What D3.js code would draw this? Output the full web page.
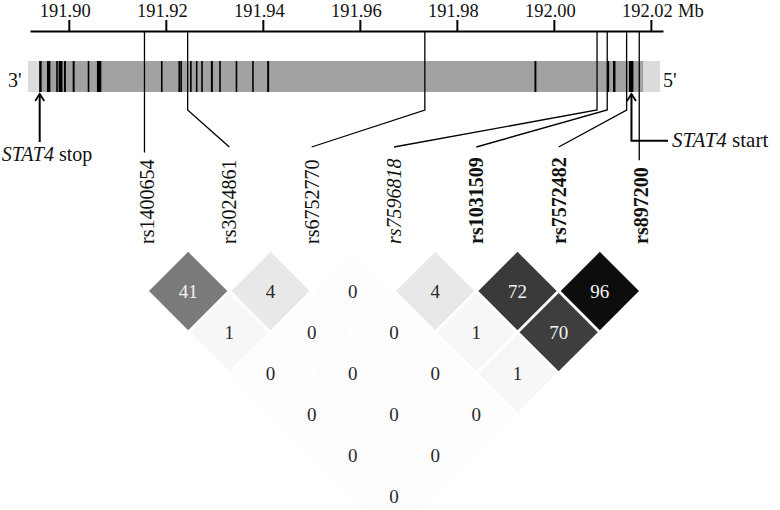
<!DOCTYPE html>
<html><head><meta charset="utf-8">
<script src="https://cdn.jsdelivr.net/npm/d3@7"></script>
<style>
body{margin:0;background:#fff}
svg{display:block;background:#fff}
text{font-family:"Liberation Serif","Times New Roman",serif}
</style>
</head><body>
<svg id="c" width="780" height="510"></svg>
<script>
// ---------- data ----------
const tickValues = [191.90, 191.92, 191.94, 191.96, 191.98, 192.00, 192.02];
const axisUnit = "Mb";
const geneFlank = [191.8916, 192.0219];
const geneBody = [191.8939, 192.0184];
const exonStarts = [191.8939,191.8955,191.8974,191.8979,191.8990,191.9008,191.9039,191.9058,191.9190,191.9226,191.9230,191.9250,191.9262,191.9273,191.9293,191.9310,191.9344,191.9378,191.9409,191.9960,192.0110,192.0122,192.0155];
const exonEnds   = [191.8944,191.8962,191.8977,191.8987,191.8994,191.9012,191.9042,191.9067,191.9193,191.9228,191.9233,191.9253,191.9265,191.9275,191.9297,191.9312,191.9347,191.9381,191.9413,191.9964,192.0114,192.0127,192.0164];
const geneStopMb = 191.8940;
const geneStartMb = 192.0160;
const snpNames = ["rs1400654","rs3024861","rs6752770","rs7596818","rs1031509","rs7572482","rs897200"];
const snpMb = [191.9156, 191.9245, 191.9734, 192.0089, 192.0110, 192.0150, 192.0176];
// LD values, row k = pairs (i, i+k)
const ldRows = [
  [41, 4, 0, 4, 72, 96],
  [1, 0, 0, 1, 70],
  [0, 0, 0, 1],
  [0, 0, 0],
  [0, 0],
  [0]
];

// ---------- drawing ----------
const svg = d3.select("#c");
const W = 780, H = 510;
svg.append("rect").attr("width", W).attr("height", H).attr("fill", "#fff");

const x = d3.scaleLinear().domain([191.892, 192.0225]).range([30, 663]);
const axisY = 31;

const axisG = svg.append("g").attr("transform", `translate(0,${axisY})`)
  .call(d3.axisTop(x).tickValues(tickValues).tickFormat(d3.format(".2f"))
        .tickSize(11).tickSizeOuter(0).tickPadding(3.5));
axisG.attr("font-family", null).attr("font-size", null);
axisG.select(".domain").attr("stroke", "#000").attr("stroke-width", 2);
axisG.selectAll(".tick line").attr("stroke", "#000").attr("stroke-width", 2);
axisG.selectAll(".tick text").attr("fill", "#111").attr("font-size", "18.5px").attr("dx", -4)
  .style("font-family", '"Liberation Serif","Times New Roman",serif');
svg.append("text").attr("x", 678).attr("y", 16.5).attr("font-size", "18.5px").attr("fill", "#111").text(axisUnit);

// gene bar
const barY = 61, barH = 31;
svg.append("rect").attr("x", x(geneFlank[0])).attr("width", x(geneFlank[1]) - x(geneFlank[0]))
  .attr("y", barY).attr("height", barH).attr("fill", "#dcdcdc");
svg.append("rect").attr("x", x(geneBody[0])).attr("width", x(geneBody[1]) - x(geneBody[0]))
  .attr("y", barY).attr("height", barH).attr("fill", "#a2a2a2");
svg.append("g").selectAll("rect").data(d3.zip(exonStarts, exonEnds)).join("rect")
  .attr("x", d => x(d[0])).attr("width", d => Math.max(1.6, x(d[1]) - x(d[0])))
  .attr("y", barY).attr("height", barH).attr("fill", "#000");
svg.append("text").attr("x", 8).attr("y", 87).attr("font-size", "20px").attr("fill", "#111").text("3'");
svg.append("text").attr("x", 663).attr("y", 87).attr("font-size", "20px").attr("fill", "#111").text("5'");

// STAT4 stop arrow
const xs = x(geneStopMb);
svg.append("path").attr("d", `M${xs},${barY + barH + 2}V142`).attr("stroke", "#000").attr("stroke-width", 2).attr("fill", "none");
svg.append("path").attr("d", `M${xs - 4.5},${barY + barH + 9}L${xs},${barY + barH + 2}L${xs + 4.5},${barY + barH + 9}`)
  .attr("stroke", "#000").attr("stroke-width", 1.8).attr("fill", "none");
const stopT = svg.append("text").attr("x", 47).attr("y", 161).attr("text-anchor", "middle").attr("font-size", "20px").attr("fill", "#111");
stopT.append("tspan").attr("font-style", "italic").text("STAT4");
stopT.append("tspan").text(" stop");

// STAT4 start arrow
const xst = x(geneStartMb);
svg.append("path").attr("d", `M${xst},${barY + barH + 2}V140.7H668`).attr("stroke", "#000").attr("stroke-width", 2).attr("fill", "none");
svg.append("path").attr("d", `M${xst - 4.5},${barY + barH + 9}L${xst},${barY + barH + 2}L${xst + 4.5},${barY + barH + 9}`)
  .attr("stroke", "#000").attr("stroke-width", 1.8).attr("fill", "none");
const startT = svg.append("text").attr("x", 672).attr("y", 147).attr("font-size", "21px").attr("fill", "#111");
startT.append("tspan").attr("font-style", "italic").text("STAT4");
startT.append("tspan").text(" start");

// SNP labels and connectors
const lx = d3.scalePoint().domain(snpNames).range([147, 641]);
const labelBase = 244, bendY = 110, connEndY = 147;
const fontStyle = {rs7596818: "italic"};
const fontWeight = {rs1031509: "bold", rs7572482: "bold", rs897200: "bold"};
snpNames.forEach((name, i) => {
  const g = svg.append("g").attr("transform", `translate(${lx(name)},${labelBase}) rotate(-90)`);
  const t = g.append("text").attr("x", 0).attr("y", 0).attr("dy", "0.35em")
    .attr("font-size", "20px").attr("fill", "#111")
    .attr("font-style", fontStyle[name] || "normal")
    .attr("font-weight", fontWeight[name] || "normal").text(name);
  const len = t.node().getComputedTextLength();
  const sx = x(snpMb[i]);
  let d;
  if (Math.abs(sx - lx(name)) < 6) {
    d = `M${sx},${axisY}V${labelBase - len - 7}`;
  } else {
    d = `M${sx},${axisY}V${bendY}L${lx(name)},${connEndY}`;
  }
  svg.append("path").attr("d", d).attr("stroke", "#000").attr("stroke-width", 1.3).attr("fill", "none");
});

// LD diamonds
const step = (lx(snpNames[1]) - lx(snpNames[0])) / 2;
const topRowY = 291;
const half = step - 2;
const grey = d3.scaleLinear().domain([0, 1, 4, 41, 72, 100]).range([253, 247, 232, 122, 58, 6]).clamp(true);
const cells = [];
ldRows.forEach((row, k) => row.forEach((v, i) => {
  const j = i + k + 1;
  cells.push({v, cx: (lx(snpNames[i]) + lx(snpNames[j])) / 2, cy: topRowY + k * step});
}));
const cg = svg.append("g");
cg.selectAll("path").data(cells).join("path")
  .attr("d", c => `M${c.cx},${c.cy - half}L${c.cx + half},${c.cy}L${c.cx},${c.cy + half}L${c.cx - half},${c.cy}Z`)
  .attr("fill", c => { const g = Math.round(grey(c.v)); return `rgb(${g},${g},${g})`; });
cg.selectAll("text").data(cells).join("text")
  .attr("x", c => c.cx).attr("y", c => c.cy).attr("dy", "0.35em").attr("text-anchor", "middle")
  .attr("font-size", "19px")
  .attr("fill", c => c.v >= 30 ? "#f4f4f4" : "#2a2a2a")
  .text(c => c.v);
</script>
</body></html>
